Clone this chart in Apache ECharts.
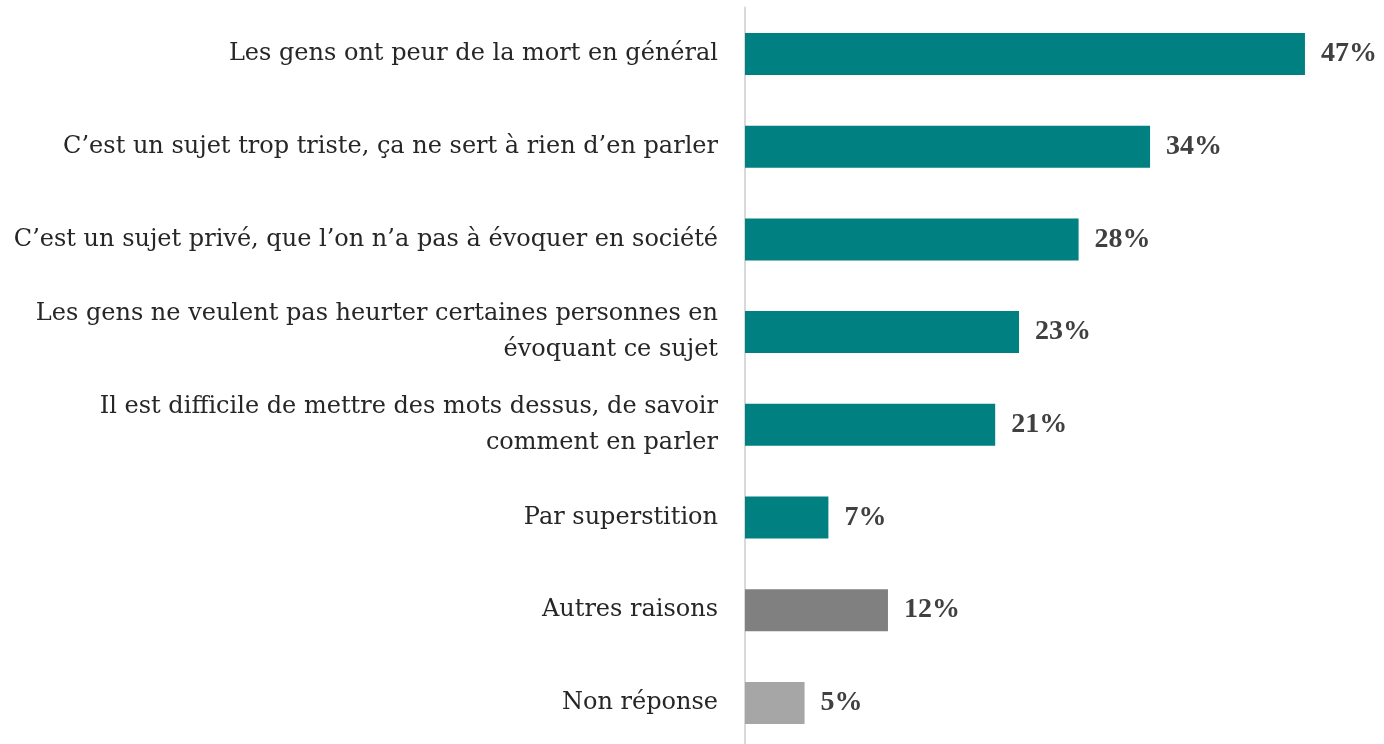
<!DOCTYPE html>
<html><head><meta charset="utf-8">
<script src="https://cdn.jsdelivr.net/npm/echarts@6/dist/echarts.min.js"></script>
<style>html,body{margin:0;padding:0;background:#fff;overflow:hidden}#c{width:1384px;height:752px}</style>
</head><body><div id="c"></div>
<script>
const categories = [
  "Les gens ont peur de la mort en général",
  "C’est un sujet trop triste, ça ne sert à rien d’en parler",
  "C’est un sujet privé, que l’on n’a pas à évoquer en société",
  "Les gens ne veulent pas heurter certaines personnes en\névoquant ce sujet",
  "Il est difficile de mettre des mots dessus, de savoir\ncomment en parler",
  "Par superstition",
  "Autres raisons",
  "Non réponse"
];
const values = [47, 34, 28, 23, 21, 7, 12, 5];
const colors = ["#008080","#008080","#008080","#008080","#008080","#008080","#808080","#a6a6a6"];

const chart = echarts.init(document.getElementById('c'));
chart.setOption({
  animation: false,
  grid: { left: 745, top: 7.6, width: 595.7, height: 741.7, containLabel: false },
  xAxis: { type: 'value', min: 0, max: 50, show: false },
  yAxis: {
    type: 'category', data: categories, inverse: true,
    axisLine: { show: true, lineStyle: { color: '#d9d9d9', width: 2 } },
    axisTick: { show: false },
    axisLabel: { margin: 27, color: '#262626', fontFamily: 'DejaVu Serif', fontSize: 24, lineHeight: 36, align: 'right' }
  },
  series: [{
    type: 'bar',
    data: values.map((v, i) => ({ value: v, itemStyle: { color: colors[i] } })),
    barWidth: 42,
    label: { show: true, position: 'right', distance: 16, formatter: '{c}%', color: '#404040', fontFamily: 'Liberation Serif', fontWeight: 'bold', fontSize: 28 }
  }]
});
</script></body></html>
